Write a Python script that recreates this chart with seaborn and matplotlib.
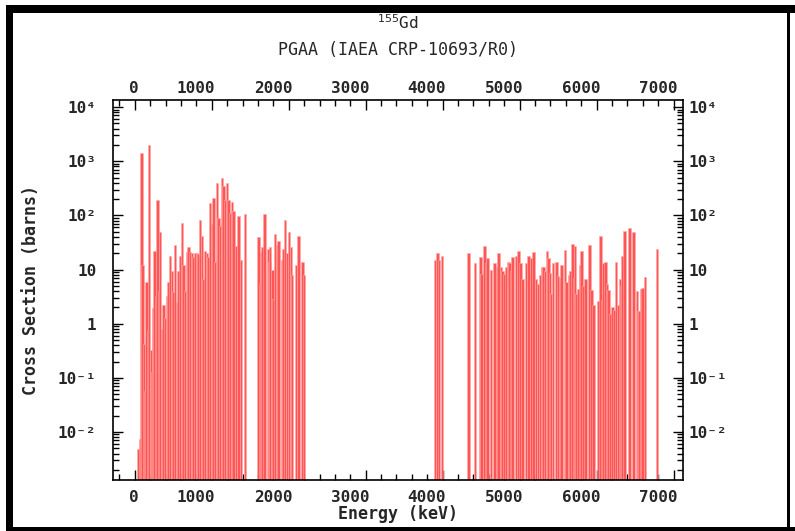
import seaborn as sns
import matplotlib.pyplot as plt
import matplotlib.ticker as mticker
import matplotlib.transforms as mtransforms
from matplotlib.patches import Rectangle
import numpy as np

# gamma-ray energies (keV) and partial cross sections (barns)
energy_low = [49, 67, 86, 101, 119, 134, 153, 171, 188, 210, 225, 244, 260, 279, 294,
              313, 331, 353, 374, 396, 418, 439, 461, 482, 504, 526, 547, 569, 591, 612,
              634, 656, 677, 699, 721, 742, 764, 786, 807, 829, 851, 872, 894, 916, 937,
              959, 981, 1002, 1024, 1046, 1067, 1089, 1111, 1132, 1154, 1176, 1197, 1219,
              1241, 1262, 1284, 1313, 1349, 1378, 1430]
sigma_low = [0.0049, 0.0074, 1400, 12, 0.42, 0.056, 6, 0.78, 2000, 0.33, 0.126, 1.96, 22, 3.3, 195,
             4, 49, 0.8, 2.2, 1.3, 3.2, 6, 18, 9.3, 3.8, 28, 2.5, 9.3, 18, 73,
             12, 4, 21, 26, 21, 20, 17, 20, 20, 19, 81, 41, 6.6, 22, 20,
             17, 170, 68, 210, 14, 400, 90, 65, 490, 350, 195, 400, 195,
             111, 174, 120, 27, 96, 15, 108]

energy_mid = [1606, 1625, 1638, 1660, 1683, 1738, 1752, 1760, 1790, 1803, 1825, 1846,
              1868, 1911, 1933, 1955, 1976, 2007, 2028, 2041, 2093, 2128, 2180, 2199]
sigma_mid = [40, 5.5, 21, 26, 108, 24, 14, 26, 10, 2.8, 46, 28,
             33, 15, 24, 81, 20, 50, 26, 7.8, 12, 42, 14, 7.8]

energy_high = [3903, 3933, 3955, 3989, 4336, 4418, 4488, 4505, 4540, 4561, 4579, 4626,
               4670, 4704, 4726, 4756, 4778, 4800, 4821, 4852, 4869, 4886, 4908, 4951,
               4982, 5008, 5038, 5081, 5116, 5155, 5177, 5211, 5241, 5263, 5289, 5310,
               5332, 5354, 5375, 5393, 5410, 5436, 5479, 5501, 5523, 5544, 5588, 5609,
               5640, 5661, 5687, 5705, 5718, 5735, 5761, 5787, 5804, 5826, 5852, 5904,
               5934, 5956, 6021, 6047, 6068, 6090, 6112, 6133, 6155, 6177, 6207, 6229,
               6250, 6281, 6302, 6320, 6333, 6363, 6424, 6480, 6523, 6541, 6554, 6584,
               6597, 6627, 6782]
sigma_high = [15, 20, 15, 18, 20, 13, 17, 8.3, 27, 13, 16, 10,
              13, 11, 20, 11, 9.3, 8.4, 11, 14, 13, 9.3, 17, 18,
              22, 13, 6.7, 13, 18, 16, 21, 6.6, 5.3, 8, 11, 11,
              9.3, 22, 16, 8.6, 3.5, 13, 14, 7.7, 7, 12, 23, 6,
              8, 9.3, 30, 7, 27, 3.5, 4.4, 12, 22, 5, 6.6, 28,
              4.2, 2.2, 2.6, 42, 2.7, 13, 14, 5.4, 4.2, 1.5, 2, 1.8,
              14, 2.2, 6.6, 5, 18, 52, 59, 49, 4.1, 1.7, 1.7, 4.4,
              4.6, 7.3, 24]

energy = energy_low + energy_mid + energy_high
sigma = sigma_low + sigma_mid + sigma_high

x_ticks = [0, 1000, 2000, 3000, 4000, 5000, 6000, 7000]
y_ticks = [1e-2, 1e-1, 1, 10, 1e2, 1e3, 1e4]
y_labels = ["10⁻²", "10⁻¹", "1", "10", "10²", "10³", "10⁴"]

sns.set_theme(style="ticks")
plt.rcParams['font.family'] = ['DejaVu Sans Mono', 'DejaVu Sans']

W, H = 795, 531
fig = plt.figure(figsize=(W / 100, H / 100), dpi=100)
fig.patch.set_facecolor("white")

# black frame round the picture: heavy on the left and top, thin on the right
def band(x0, y0, x1, y1):
    fig.patches.append(Rectangle((x0 / W, 1 - y1 / H), (x1 - x0) / W, (y1 - y0) / H,
                                 transform=fig.transFigure, facecolor="black",
                                 edgecolor="none", zorder=0))

band(6, 5, 13, 531)
band(6, 5, 795, 13)
band(787, 5, 790, 531)
band(6, 527, 795, 531)

ax = fig.add_axes([113 / W, 1 - 480 / H, 570 / W, 380 / H])
ax.bar(energy, sigma, width=32, bottom=1e-5, color="#ff5555",
       edgecolor="#ffaaaa", linewidth=0.4, align="center")

ax.set_yscale("log")
ax.set_xlim(-282, 7121)
ax.set_ylim(1.3e-3, 1.35e4)

ax.xaxis.set_major_locator(mticker.FixedLocator(x_ticks))
ax.xaxis.set_minor_locator(mticker.MultipleLocator(200))
ax.yaxis.set_major_locator(mticker.FixedLocator(y_ticks))
ax.yaxis.set_major_formatter(mticker.FixedFormatter(y_labels))
ax.yaxis.set_minor_locator(mticker.LogLocator(base=10, subs=np.arange(2, 10), numticks=20))
ax.yaxis.set_minor_formatter(mticker.NullFormatter())

for s in ax.spines.values():
    s.set_linewidth(1.2)
    s.set_color("black")

ax.tick_params(which="both", direction="in", top=True, right=True, color="black", width=1)
ax.tick_params(which="major", length=7)
ax.tick_params(which="minor", length=4)
ax.tick_params(axis="x", labeltop=True, labelbottom=True, labelsize=11.5)
ax.tick_params(axis="x", which="major", pad=7)
ax.tick_params(axis="y", labelleft=True, labelright=True, labelsize=11.5)
ax.tick_params(axis="y", which="major", pad=12)

dpi = fig.dpi_scale_trans
# energy labels sit right-aligned on their ticks
for t in ax.xaxis.get_major_ticks():
    t.label1.set_fontweight("bold")
    t.label1.set_horizontalalignment("right")
    t.label1.set_transform(t.label1.get_transform()
                           + mtransforms.ScaledTranslation(3.5 / 100, 0, dpi))
    t.label2.set_fontweight("bold")
    t.label2.set_horizontalalignment("right")
    t.label2.set_transform(t.label2.get_transform()
                           + mtransforms.ScaledTranslation(3.5 / 100, -6 / 100, dpi))
for t in ax.yaxis.get_major_ticks():
    t.label1.set_fontweight("bold")
    t.label2.set_fontweight("bold")
    t.label2.set_transform(t.label2.get_transform()
                           + mtransforms.ScaledTranslation(-11.5 / 100, 0, dpi))

ax.set_xlabel("Energy (keV)", fontsize=12, fontweight="bold", labelpad=0)
ax.set_ylabel("Cross Section (barns)", fontsize=12, fontweight="bold", labelpad=13)

fig.text(0.5, 1 - 23 / H, r"$^{155}$Gd", ha="center", va="center", fontsize=11.5)
fig.text(0.5, 1 - 50 / H, "PGAA (IAEA CRP-10693/R0)", ha="center", va="center", fontsize=12)

fig.savefig("out.png", dpi=100, facecolor="white")
